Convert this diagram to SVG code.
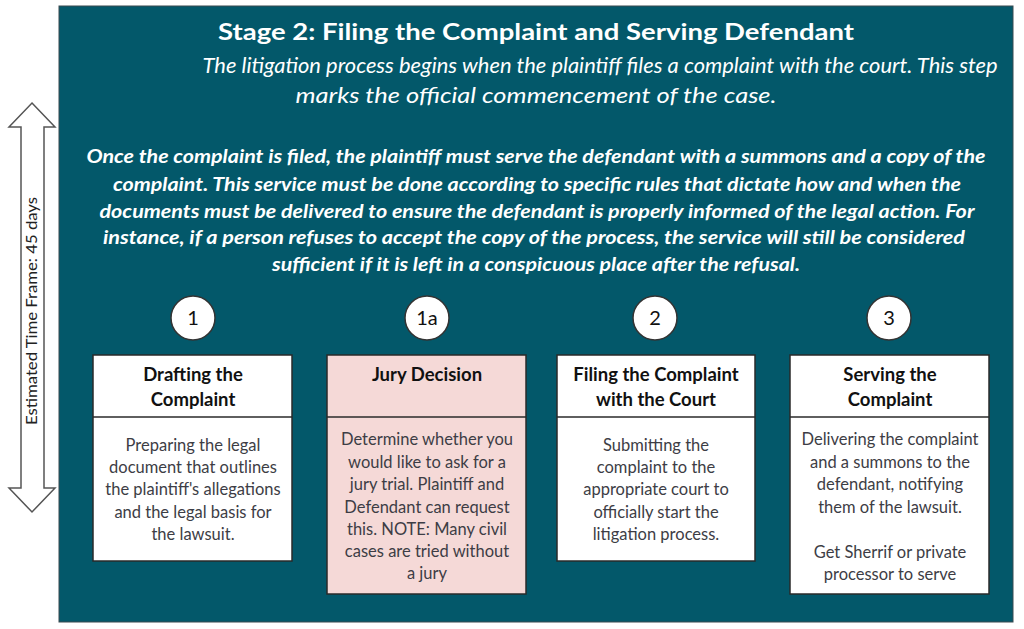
<svg xmlns="http://www.w3.org/2000/svg" width="1024" height="629" viewBox="0 0 1024 629">
<style>
.t{font-family:Lato,"Open Sans","Liberation Sans",sans-serif;text-anchor:middle}
.w{fill:#ffffff}
.title{font-size:23px;font-weight:bold}
.intro{font-size:21px;font-style:italic}
.para{font-size:18px;font-style:italic;font-weight:bold}
.box{fill:#ffffff;stroke:#2a2a2a;stroke-width:1.5}
.pink{fill:#f5d9d7}
.div{stroke:#2a2a2a;stroke-width:1.5}
.hd{font-size:18.5px;font-weight:bold;fill:#111111}
.bd{font-size:16.5px;fill:#3d3d45}
.circ{fill:#ffffff;stroke:#333333;stroke-width:1.5}
.num{font-size:20px;fill:#111111}
</style>
<rect width="1024" height="629" fill="#ffffff"/>
<g id="panel">
<rect x="59" y="6" width="954" height="616" fill="#03586a" stroke="#3a4a50" stroke-width="1"/>
<text class="t w title" x="536" y="40" textLength="636" lengthAdjust="spacingAndGlyphs">Stage 2: Filing the Complaint and Serving Defendant</text>
<text class="t w intro" x="600" y="73" textLength="795" lengthAdjust="spacingAndGlyphs">The litigation process begins when the plaintiff files a complaint with the court. This step</text>
<text class="t w intro" x="536" y="103" textLength="481" lengthAdjust="spacingAndGlyphs">marks the official commencement of the case.</text>
<text class="t w para" x="536" y="163" textLength="899" lengthAdjust="spacingAndGlyphs">Once the complaint is filed, the plaintiff must serve the defendant with a summons and a copy of the</text>
<text class="t w para" x="537" y="191" textLength="848" lengthAdjust="spacingAndGlyphs">complaint. This service must be done according to specific rules that dictate how and when the</text>
<text class="t w para" x="537" y="218" textLength="875" lengthAdjust="spacingAndGlyphs">documents must be delivered to ensure the defendant is properly informed of the legal action. For</text>
<text class="t w para" x="534" y="244" textLength="862" lengthAdjust="spacingAndGlyphs">instance, if a person refuses to accept the copy of the process, the service will still be considered</text>
<text class="t w para" x="536" y="271" textLength="528" lengthAdjust="spacingAndGlyphs">sufficient if it is left in a conspicuous place after the refusal.</text>
</g>
<g id="timeline">
<polygon points="32,103 55,127 44,127 44,488 55,488 32,512 9,488 21,488 21,127 9,127" fill="#ffffff" stroke="#555555" stroke-width="1.5" stroke-linejoin="miter"/>
<text class="t" x="0" y="0" transform="translate(37,311) rotate(-90)" font-size="15" fill="#222222" textLength="228" lengthAdjust="spacingAndGlyphs">Estimated Time Frame:  45 days</text>
</g>
<g id="connectors"></g>
<g id="step1">
<circle class="circ" cx="193" cy="318" r="22"/>
<text class="t num" x="193" y="325">1</text>
<rect class="box" x="93" y="355" width="199" height="206"/>
<line class="div" x1="93" y1="417" x2="292" y2="417"/>
<text class="t hd" x="193" y="381">Drafting the</text>
<text class="t hd" x="193" y="406">Complaint</text>
<text class="t bd" x="193" y="451">Preparing the legal</text>
<text class="t bd" x="193" y="473">document that outlines</text>
<text class="t bd" x="193" y="495">the plaintiff's allegations</text>
<text class="t bd" x="193" y="518">and the legal basis for</text>
<text class="t bd" x="193" y="540">the lawsuit.</text>
</g>
<g id="step1a">
<circle class="circ" cx="427" cy="318" r="22"/>
<text class="t num" x="427" y="325">1a</text>
<rect class="box pink" x="327" y="355" width="199" height="239"/>
<line class="div" x1="327" y1="417" x2="526" y2="417"/>
<text class="t hd" x="427" y="381">Jury Decision</text>
<text class="t bd" x="427" y="445">Determine whether you</text>
<text class="t bd" x="427" y="468">would like to ask for a</text>
<text class="t bd" x="427" y="490">jury trial. Plaintiff and</text>
<text class="t bd" x="427" y="513">Defendant can request</text>
<text class="t bd" x="427" y="535">this. NOTE: Many civil</text>
<text class="t bd" x="427" y="557">cases are tried without</text>
<text class="t bd" x="427" y="579">a jury</text>
</g>
<g id="step2">
<circle class="circ" cx="655" cy="318" r="22"/>
<text class="t num" x="655" y="325">2</text>
<rect class="box" x="557" y="355" width="198" height="206"/>
<line class="div" x1="557" y1="417" x2="755" y2="417"/>
<text class="t hd" x="656" y="381">Filing the Complaint</text>
<text class="t hd" x="656" y="406">with the Court</text>
<text class="t bd" x="656" y="451">Submitting the</text>
<text class="t bd" x="656" y="473">complaint to the</text>
<text class="t bd" x="656" y="495">appropriate court to</text>
<text class="t bd" x="656" y="518">officially start the</text>
<text class="t bd" x="656" y="540">litigation process.</text>
</g>
<g id="step3">
<circle class="circ" cx="889" cy="318" r="22"/>
<text class="t num" x="889" y="325">3</text>
<rect class="box" x="790" y="355" width="199" height="239"/>
<line class="div" x1="790" y1="417" x2="989" y2="417"/>
<text class="t hd" x="890" y="381">Serving the</text>
<text class="t hd" x="890" y="406">Complaint</text>
<text class="t bd" x="890" y="445">Delivering the complaint</text>
<text class="t bd" x="890" y="468">and a summons to the</text>
<text class="t bd" x="890" y="490">defendant, notifying</text>
<text class="t bd" x="890" y="513">them of the lawsuit.</text>
<text class="t bd" x="890" y="558">Get Sherrif or private</text>
<text class="t bd" x="890" y="580">processor to serve</text>
</g>
</svg>
